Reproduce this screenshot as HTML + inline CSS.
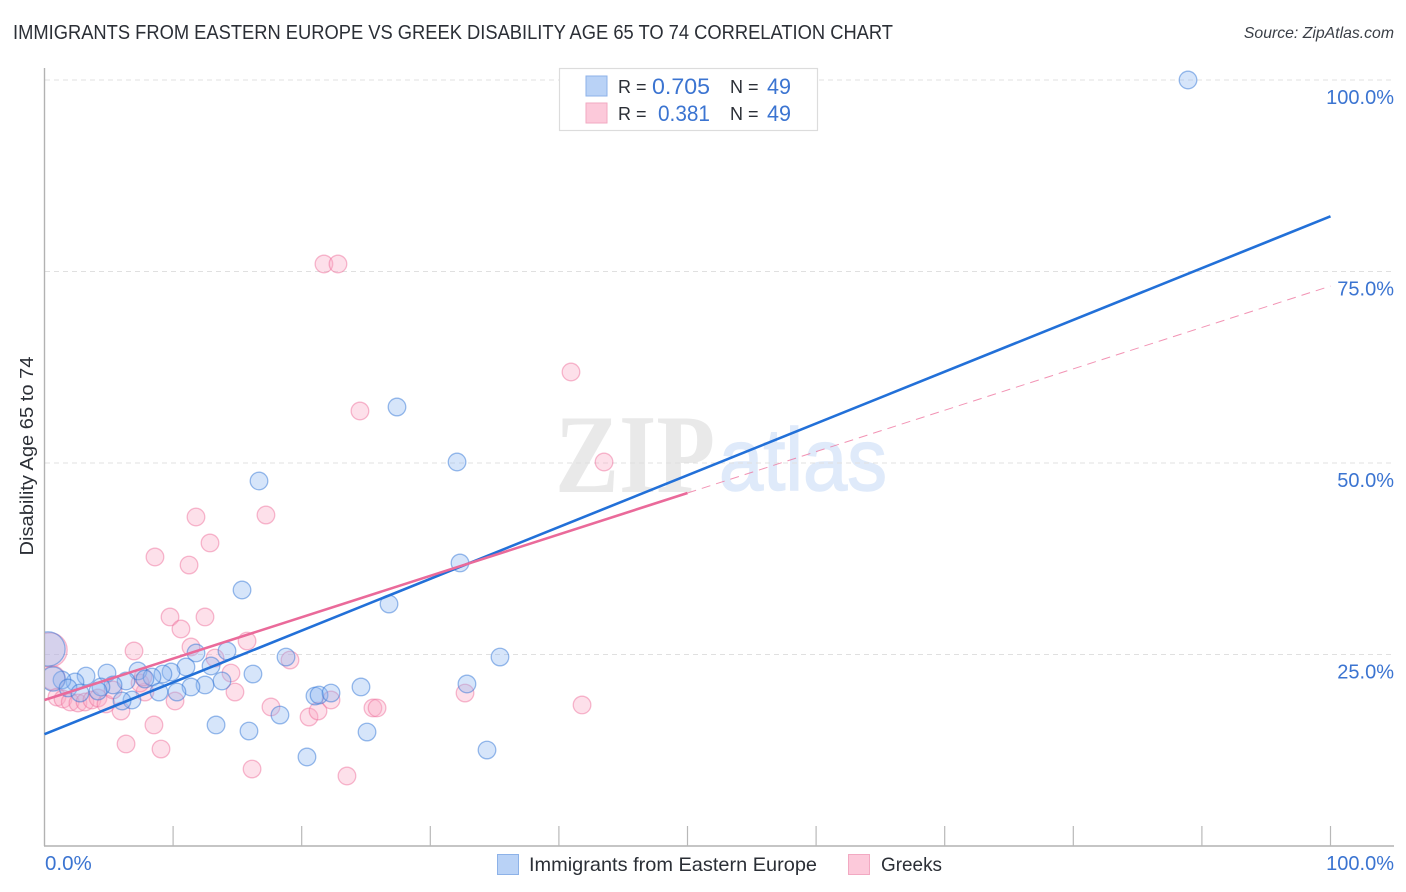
<!DOCTYPE html>
<html lang="en">
<head>
<meta charset="utf-8">
<title>Immigrants from Eastern Europe vs Greek Disability Age 65 to 74 Correlation Chart</title>
<style>
html,body{margin:0;padding:0;background:#fff;}
svg{display:block;}
text{font-family:"Liberation Sans",sans-serif;}
</style>
</head>
<body>
<svg id="chart" xmlns="http://www.w3.org/2000/svg" width="1406" height="892" viewBox="0 0 1406 892">
  <defs>
    <clipPath id="plot-clip"><rect x="45" y="60" width="1350" height="786"/></clipPath>
  </defs>
  <text x="13" y="39" font-size="20" fill="#2b2f36" textLength="880" lengthAdjust="spacingAndGlyphs">IMMIGRANTS FROM EASTERN EUROPE VS GREEK DISABILITY AGE 65 TO 74 CORRELATION CHART</text>
  <text x="1394" y="38" font-size="15.8" font-style="italic" fill="#3a3f47" text-anchor="end">Source: ZipAtlas.com</text>

  <g>
    <text x="555" y="492" font-size="112" font-weight="bold" fill="#e9e9e9" textLength="160" lengthAdjust="spacingAndGlyphs" style="font-family:'Liberation Serif',serif">ZIP</text>
    <text x="719" y="490" font-size="88" fill="#dfeafa" stroke="#dfeafa" stroke-width="1.5" textLength="168" lengthAdjust="spacingAndGlyphs">atlas</text>
  </g>

  <g id="grid"></g>
  <g id="axes"></g>
  <g id="points" clip-path="url(#plot-clip)"></g>
  <g id="trends"></g>
  <g id="labels"></g>

  <text transform="translate(33,456) rotate(-90)" font-size="18.5" fill="#2b2f36" text-anchor="middle" textLength="199" lengthAdjust="spacingAndGlyphs">Disability Age 65 to 74</text>

  <g>
    <rect x="559.5" y="68.5" width="258" height="62" fill="#fff" stroke="#dcdcdc" stroke-width="1.2"/>
    <rect x="586" y="76" width="21" height="20" fill="#b9d2f6" stroke="#8db2e8" stroke-width="1"/>
    <rect x="586" y="103" width="21" height="20" fill="#fcc9da" stroke="#f2a9c2" stroke-width="1"/>
    <text x="618" y="93" font-size="18" fill="#2b2f36">R =</text>
    <text x="652" y="94" font-size="22" fill="#3b74d1" textLength="58" lengthAdjust="spacingAndGlyphs">0.705</text>
    <text x="730" y="93" font-size="18" fill="#2b2f36">N =</text>
    <text x="767" y="94" font-size="22" fill="#3b74d1" textLength="24" lengthAdjust="spacingAndGlyphs">49</text>
    <text x="618" y="120" font-size="18" fill="#2b2f36">R =</text>
    <text x="658" y="121" font-size="22" fill="#3b74d1" textLength="52" lengthAdjust="spacingAndGlyphs">0.381</text>
    <text x="730" y="120" font-size="18" fill="#2b2f36">N =</text>
    <text x="767" y="121" font-size="22" fill="#3b74d1" textLength="24" lengthAdjust="spacingAndGlyphs">49</text>
  </g>

  <g>
    <rect x="497.5" y="854.5" width="21" height="20" fill="#b9d2f6" stroke="#8db2e8" stroke-width="1"/>
    <text x="529" y="871" font-size="19.5" fill="#2b2f36" textLength="288" lengthAdjust="spacingAndGlyphs">Immigrants from Eastern Europe</text>
    <rect x="848.5" y="854.5" width="21" height="20" fill="#fcc9da" stroke="#f2a9c2" stroke-width="1"/>
    <text x="881" y="871" font-size="19.5" fill="#2b2f36" textLength="61" lengthAdjust="spacingAndGlyphs">Greeks</text>
  </g>
</svg>
<script>
const blueX = [0.27,15.36,14.19,11.78,18.78,3.23,4.86,7.27,11.00,12.95,16.21,9.84,9.21,8.36,7.81,6.34,5.33,4.39,4.16,2.37,1.36,0.66,1.83,2.76,13.80,12.48,11.39,10.30,8.90,6.80,6.03,18.31,13.34,15.90,20.41,21.03,21.35,22.28,24.61,25.08,27.41,32.08,32.31,26.79,16.68,32.85,35.42,34.41,88.92];
const blueY = [25.72,33.42,25.46,25.20,24.67,22.19,22.58,22.85,23.37,23.50,22.45,22.72,22.45,22.06,21.80,21.54,21.02,20.76,20.23,21.41,21.67,21.80,20.63,19.97,21.54,21.02,20.76,20.10,20.10,19.06,18.93,17.10,15.80,15.01,11.62,19.58,19.71,19.97,20.76,14.88,57.31,50.13,36.95,31.59,47.65,21.15,24.67,12.53,100];
const blueWeight = [3.8,1,1,1,1,1,1,1,1,1,1,1,1,1,1,1,1,1,1,1,1,1.9,1,1,1,1,1,1,1,1,1,1,1,1,1,1,1,1,1,1,1,1,1,1,1,1,1,1,1];
const pinkX = [8.59,11.24,9.76,10.61,12.48,11.39,6.96,15.75,0.43,13.26,19.09,14.50,14.81,0.66,10.15,5.95,7.81,7.43,7.66,8.51,6.34,9.06,16.14,17.61,20.57,21.27,22.28,0.97,1.44,2.00,2.60,3.15,3.69,4.16,4.78,5.33,24.53,21.73,22.82,40.94,43.51,11.78,17.22,12.87,23.52,32.70,41.80,25.54,25.86];
const pinkY = [37.73,36.68,29.90,28.33,29.90,25.98,25.46,26.76,25.59,24.54,24.28,22.58,20.10,21.93,18.93,17.62,20.10,21.28,22.06,15.80,13.32,12.66,10.05,18.15,16.84,17.62,19.06,19.45,19.19,18.80,18.67,18.80,19.06,19.32,18.54,20.37,56.79,75.98,75.98,61.88,50.13,42.95,43.21,39.56,9.14,19.97,18.41,18.02,18.02];
const pinkWeight = [1,1,1,1,1,1,1,1,3.8,1,1,1,1,1.9,1,1,1,1,1,1,1,1,1,1,1,1,1,1,1,1,1,1,1,1,1,1,1,1,1,1,1,1,1,1,1,1,1,1,1];
const blueTrend = [14.6,82.2];
const pinkTrend = [19.06,73.1];
const pinkSolidEnd = 50;
const xTicks = [0,10,20,30,40,50,60,70,80,90,100];
const yTicks = [25,50,75,100];
const yTickLabels = ['25.0%','50.0%','75.0%','100.0%'];
const xEdgeLabels = ['0.0%','100.0%'];

const SVG_NS = 'http://www.w3.org/2000/svg';
function xScale(v){ return 44.5 + v * 12.86; }
function yScale(v){ return 846 - v * 7.66; }
function rScale(w){ return 8.8 * Math.sqrt(w); }
function make(tag, attrs, parent){
  const el = document.createElementNS(SVG_NS, tag);
  for (const k in attrs) el.setAttribute(k, attrs[k]);
  parent.appendChild(el);
  return el;
}
const grid = document.getElementById('grid');
const axes = document.getElementById('axes');
const points = document.getElementById('points');
const trends = document.getElementById('trends');
const labels = document.getElementById('labels');

yTicks.forEach(function(t){
  const g = make('line',{x1:45,x2:1394,y1:yScale(t),y2:yScale(t),stroke:'#e0e0e0','stroke-width':1,'stroke-dasharray':'5 4'},grid);
  
  
});

const yAxis = make('line',{x1:44.5,x2:44.5,y1:68,y2:846,stroke:'#b2b2b2','stroke-width':1.4},axes);


const xAxis = make('line',{x1:44,x2:1394,y1:846,y2:846,stroke:'#b2b2b2','stroke-width':1.4},axes);


xTicks.slice(1).forEach(function(t){
  const tick = make('line',{x1:xScale(t),x2:xScale(t),y1:826,y2:846,stroke:'#b8b8b8','stroke-width':1.2},axes);
  
  
});

function drawSeries(xs, ys, ws, fill, stroke, name){
  xs.forEach(function(x,i){
    const c = make('circle',{cx:xScale(x),cy:yScale(ys[i]),r:rScale(ws[i]),fill:fill,'fill-opacity':0.36,stroke:stroke,'stroke-opacity':0.48,'stroke-width':1.3},points);
    
    
  });
}
drawSeries(pinkX, pinkY, pinkWeight, '#f9a8c4', '#ee6f9b', 'greeks-point');
drawSeries(blueX, blueY, blueWeight, '#8db8f0', '#2f74d6', 'immigrants-point');

function trendAt(tr, x){ return tr[0] + (tr[1]-tr[0]) * x / 100; }
const pinkDash = make('line',{x1:xScale(pinkSolidEnd),y1:yScale(trendAt(pinkTrend,pinkSolidEnd)),x2:xScale(100),y2:yScale(trendAt(pinkTrend,100)),stroke:'#ee6f9b','stroke-width':1,'stroke-dasharray':'9 6','stroke-opacity':0.75},trends);


const blueLine = make('line',{x1:xScale(0),y1:yScale(trendAt(blueTrend,0)),x2:xScale(100),y2:yScale(trendAt(blueTrend,100)),stroke:'#2270d8','stroke-width':2.6},trends);


const pinkLine = make('line',{x1:xScale(0),y1:yScale(trendAt(pinkTrend,0)),x2:xScale(pinkSolidEnd),y2:yScale(trendAt(pinkTrend,pinkSolidEnd)),stroke:'#ea6a9a','stroke-width':2.6},trends);



yTicks.forEach(function(t,i){
  const tl = make('text',{x:1394,y:yScale(t)+24,'font-size':20,fill:'#3b74d1','text-anchor':'end'},labels);
  
  
  tl.textContent = yTickLabels[i];
});
const xl0 = make('text',{x:45,y:870,'font-size':20.5,fill:'#3b74d1'},labels);


xl0.textContent = xEdgeLabels[0];
const xl1 = make('text',{x:1394,y:870,'font-size':20,fill:'#3b74d1','text-anchor':'end'},labels);


xl1.textContent = xEdgeLabels[1];
</script>
</body>
</html>
